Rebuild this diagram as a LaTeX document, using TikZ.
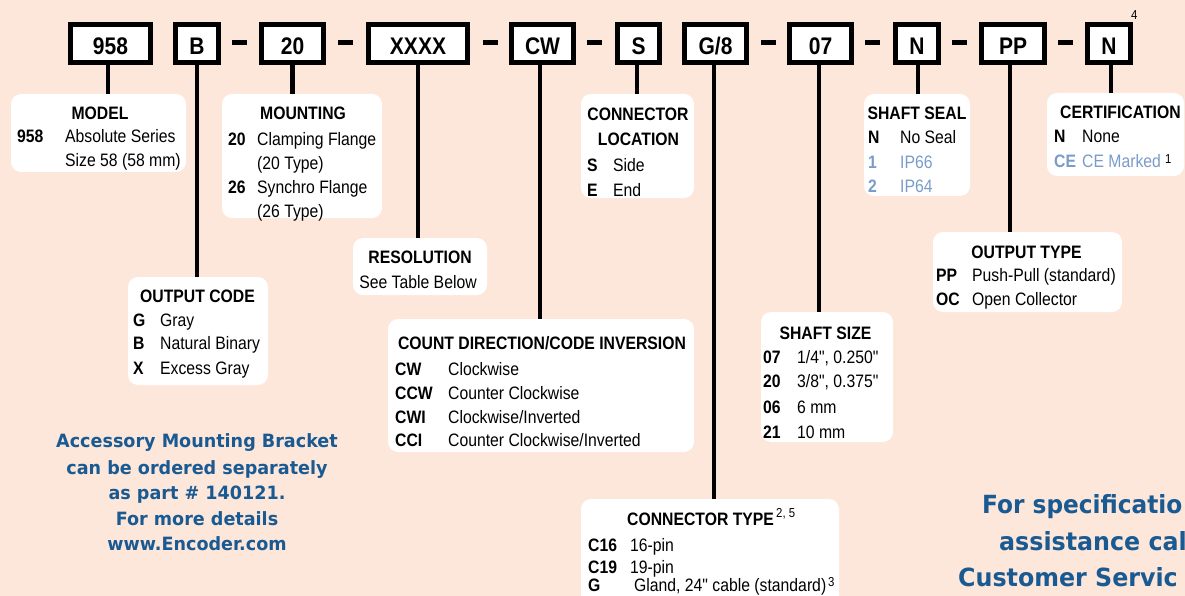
\documentclass[tikz,border=0pt]{standalone}
\usepackage{fontspec}
\setmainfont[FakeStretch=0.875, Ligatures=TeXOff]{Liberation Sans}
\newfontfamily\bluefont[FakeStretch=0.96]{DejaVu Sans}
\newfontfamily\bluefontR[FakeStretch=0.95]{DejaVu Sans}
\newfontfamily\bluefontS[FakeStretch=0.93]{DejaVu Sans}
\definecolor{bg}{RGB}{253,230,218}
\definecolor{ltblue}{RGB}{122,156,202}
\definecolor{dkblue}{RGB}{26,90,146}
\newcommand\fs{\fontsize{18}{21}\selectfont}
\tikzset{
 topbox/.style={draw, line width=5pt, fill=white, inner sep=0pt, minimum height=38pt,
   text height=23pt, text depth=0pt, font=\fontsize{24}{26}\selectfont\bfseries},
 dashbar/.style={fill=black, inner sep=0pt, minimum width=15pt, minimum height=5pt},
 infobox/.style={fill=white, rounded corners=10pt, inner sep=0pt},
 stem/.style={line width=4.5pt},
 ttl/.style={inner sep=0pt, anchor=base, font=\fs\bfseries},
 ttlw/.style={inner sep=0pt, anchor=base west, font=\fs\bfseries},
 code/.style={inner sep=0pt, anchor=base west, font=\fs\bfseries},
 desc/.style={inner sep=0pt, anchor=base west, font=\fs},
 supnum/.style={inner sep=0pt, anchor=base west, font=\fontsize{13}{15}\selectfont},
 leftblue/.style={inner sep=0pt, anchor=base, text=dkblue, font=\bluefont\bfseries\fontsize{18.3}{22}\selectfont},
 rightblue/.style={inner sep=0pt, anchor=base west, text=dkblue, font=\bluefontR\bfseries\fontsize{25}{30}\selectfont},
}
\begin{document}
\begin{tikzpicture}[x=1pt,y=-1pt]
\useasboundingbox (0,0) rectangle (1185,596);
\clip (0,0) rectangle (1185,596);
\fill[bg] (0,0) rectangle (1185,596);

% ---------- top code boxes ----------
\node[topbox, minimum width=80pt] (t958) at (110.5,43.5) {958};
\node[topbox, minimum width=43pt] (tB) at (197,43.5) {B};
\node[dashbar] (d1) at (239.5,42.5) {};
\node[topbox, minimum width=62pt] (t20) at (292.5,43.5) {20};
\node[dashbar] (d2) at (345,42.5) {};
\node[topbox, minimum width=99pt] (tX) at (418,43.5) {XXXX};
\node[dashbar] (d3) at (490,42.5) {};
\node[topbox, minimum width=62pt] (tCW) at (542.5,43.5) {CW};
\node[dashbar] (d4) at (594,42.5) {};
\node[topbox, minimum width=42pt] (tS) at (638.5,43.5) {S};
\node[topbox, minimum width=62pt] (tG) at (715.5,43.5) {G/8};
\node[dashbar] (d5) at (768,42.5) {};
\node[topbox, minimum width=62pt] (t07) at (820.5,43.5) {07};
\node[dashbar] (d6) at (872,42.5) {};
\node[topbox, minimum width=43pt] (tN) at (917,43.5) {N};
\node[dashbar] (d7) at (959.5,42.5) {};
\node[topbox, minimum width=63pt] (tPP) at (1013,43.5) {PP};
\node[dashbar] (d8) at (1065,42.5) {};
\node[topbox, minimum width=43pt] (tC) at (1109,43.5) {N};
\node[supnum] (s4) at (1131,19.3) {4};

% ---------- info boxes ----------
\node[infobox, minimum width=175pt, minimum height=78pt] (model) at (98.5,133) {};
\node[infobox, minimum width=160pt, minimum height=124pt] (mount) at (302,156) {};
\node[infobox, minimum width=134pt, minimum height=57pt] (resol) at (420,266.5) {};
\node[infobox, minimum width=113pt, minimum height=104pt] (connloc) at (637.5,146) {};
\node[infobox, minimum width=140pt, minimum height=108pt] (outcode) at (198,331) {};
\node[infobox, minimum width=306pt, minimum height=133pt] (countdir) at (541,385.5) {};
\node[infobox, minimum width=258pt, minimum height=116pt] (conntype) at (710,557) {};
\node[infobox, minimum width=132pt, minimum height=130pt] (shaftsize) at (827,377) {};
\node[infobox, minimum width=106pt, minimum height=102pt] (shaftseal) at (917,145) {};
\node[infobox, minimum width=137pt, minimum height=83pt] (cert) at (1115.5,134.5) {};
\node[infobox, minimum width=189pt, minimum height=80pt] (outtype) at (1027.5,272) {};

% ---------- stems ----------
\draw[stem] ([xshift=-2.5pt]t958.south) -- ([xshift=-2.5pt]t958.south |- model.north);
\draw[stem] (tB.south) -- (tB.south |- outcode.north);
\draw[stem] (t20.south) -- (t20.south |- mount.north);
\draw[stem] (tX.south) -- (tX.south |- resol.north);
\draw[stem] ([xshift=-2.5pt]tCW.south) -- ([xshift=-2.5pt]tCW.south |- countdir.north);
\draw[stem] ([xshift=-1.5pt]tS.south) -- ([xshift=-1.5pt]tS.south |- connloc.north);
\draw[stem] ([xshift=-1.5pt]tG.south) -- ([xshift=-1.5pt]tG.south |- conntype.north);
\draw[stem] ([xshift=-1.5pt]t07.south) -- ([xshift=-1.5pt]t07.south |- shaftsize.north);
\draw[stem] ([xshift=1pt]tN.south) -- ([xshift=1pt]tN.south |- shaftseal.north);
\draw[stem] ([xshift=-3pt]tPP.south) -- ([xshift=-3pt]tPP.south |- outtype.north);
\draw[stem] ([xshift=2pt]tC.south) -- ([xshift=2pt]tC.south |- cert.north);

% ---------- MODEL ----------
\node[ttl] (modelT) at (100,119.5) {MODEL};
\node[code] (m1c) at (17,143) {958};
\node[desc] (m1d) at (65,143) {Absolute Series};
\node[desc] (m2d) at (65,166.5) {Size 58 (58 mm)};

% ---------- MOUNTING ----------
\node[ttl] (mountT) at (303,120) {MOUNTING};
\node[code] (mo1c) at (228,145.7) {20};
\node[desc] (mo1d) at (257,145.7) {Clamping Flange};
\node[desc] (mo2d) at (257,169.7) {(20 Type)};
\node[code] (mo3c) at (228,193.7) {26};
\node[desc] (mo3d) at (257,193.7) {Synchro Flange};
\node[desc] (mo4d) at (257,217) {(26 Type)};

% ---------- RESOLUTION ----------
\node[ttl] (resT) at (420,263) {RESOLUTION};
\node[inner sep=0pt, anchor=base, font=\fs] (res1) at (418,288) {See Table Below};

% ---------- CONNECTOR LOCATION ----------
\node[ttl] (clT1) at (638,120.3) {CONNECTOR};
\node[ttl] (clT2) at (638.5,145.3) {LOCATION};
\node[code] (cl1c) at (587,171.3) {S};
\node[desc] (cl1d) at (613,171.3) {Side};
\node[code] (cl2c) at (587,196.3) {E};
\node[desc] (cl2d) at (613,196.3) {End};

% ---------- OUTPUT CODE ----------
\node[ttl] (ocT) at (197.5,302) {OUTPUT CODE};
\node[code] (oc1c) at (133,326.3) {G};
\node[desc] (oc1d) at (160,326.3) {Gray};
\node[code] (oc2c) at (133,349.7) {B};
\node[desc] (oc2d) at (160,349.7) {Natural Binary};
\node[code] (oc3c) at (133,374) {X};
\node[desc] (oc3d) at (160,374) {Excess Gray};

% ---------- COUNT DIRECTION ----------
\node[ttl] (cdT) at (542,349.7) {COUNT DIRECTION/CODE INVERSION};
\node[code] (cd1c) at (395,375.7) {CW};
\node[desc] (cd1d) at (448,375.7) {Clockwise};
\node[code] (cd2c) at (395,399) {CCW};
\node[desc] (cd2d) at (448,399) {Counter Clockwise};
\node[code] (cd3c) at (395,423) {CWI};
\node[desc] (cd3d) at (448,423) {Clockwise/Inverted};
\node[code] (cd4c) at (395,446.3) {CCI};
\node[desc] (cd4d) at (448,446.3) {Counter Clockwise/Inverted};

% ---------- CONNECTOR TYPE ----------
\node[ttlw] (ctT) at (627,525) {CONNECTOR TYPE};
\node[supnum] (ctS) at (776,517) {2, 5};
\node[code] (ct1c) at (588,551.5) {C16};
\node[desc] (ct1d) at (630,551.5) {16-pin};
\node[code] (ct2c) at (588,573) {C19};
\node[desc] (ct2d) at (630,573) {19-pin};
\node[code] (ct3c) at (588,591.5) {G};
\node[desc] (ct3d) at (634,591.5) {Gland, 24" cable (standard)};
\node[supnum] (ct3s) at (828,586.5) {3};

% ---------- SHAFT SIZE ----------
\node[ttl] (ssT) at (825.5,339) {SHAFT SIZE};
\node[code] (ss1c) at (763,363) {07};
\node[desc] (ss1d) at (797,363) {1/4", 0.250"};
\node[code] (ss2c) at (763,387.3) {20};
\node[desc] (ss2d) at (797,387.3) {3/8", 0.375"};
\node[code] (ss3c) at (763,413) {06};
\node[desc] (ss3d) at (797,413) {6 mm};
\node[code] (ss4c) at (763,438) {21};
\node[desc] (ss4d) at (797,438) {10 mm};

% ---------- SHAFT SEAL ----------
\node[ttl] (seT) at (917,119.7) {SHAFT SEAL};
\node[code] (se1c) at (868,143.7) {N};
\node[desc] (se1d) at (900,143.7) {No Seal};
\node[code, text=ltblue] (se2c) at (868,168) {1};
\node[desc, text=ltblue] (se2d) at (900,168) {IP66};
\node[code, text=ltblue] (se3c) at (868,192.3) {2};
\node[desc, text=ltblue] (se3d) at (900,192.3) {IP64};

% ---------- CERTIFICATION ----------
\node[ttl] (ceT) at (1120.4,119) {CERTIFICATION};
\node[code] (ce1c) at (1054,143) {N};
\node[desc] (ce1d) at (1082,143) {None};
\node[code, text=ltblue] (ce2c) at (1054,167.3) {CE};
\node[desc, text=ltblue] (ce2d) at (1082,167.3) {CE Marked};
\node[supnum] (ce2s) at (1165,164) {1};

% ---------- OUTPUT TYPE ----------
\node[ttl] (otT) at (1026.5,258) {OUTPUT TYPE};
\node[code] (ot1c) at (936,281.3) {PP};
\node[desc] (ot1d) at (972,281.3) {Push-Pull (standard)};
\node[code] (ot2c) at (936,305.7) {OC};
\node[desc] (ot2d) at (972,305.7) {Open Collector};

% ---------- blue notes ----------
\node[leftblue] (acc1) at (197,447.7) {Accessory Mounting Bracket};
\node[leftblue] (acc2) at (197,474) {can be ordered separately};
\node[leftblue] (acc3) at (197,499.3) {as part \# 140121.};
\node[leftblue] (acc4) at (197,525) {For more details};
\node[leftblue] (acc5) at (197,550) {www.Encoder.com};

\node[rightblue, font=\bluefontS\bfseries\fontsize{25}{30}\selectfont] (spec1) at (982,513.3) {For specificatio};
\node[rightblue] (spec2) at (999,550) {assistance cal};
\node[rightblue] (spec3) at (958,586) {Customer Servic};
\end{tikzpicture}
\end{document}
